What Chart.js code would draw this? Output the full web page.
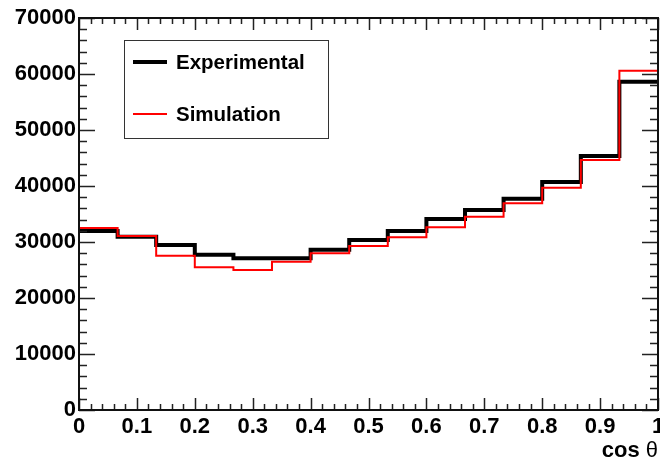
<!DOCTYPE html>
<html>
<head>
<meta charset="utf-8">
<script src="https://cdn.jsdelivr.net/npm/chart.js@4"></script>
<style>
  html, body { margin: 0; padding: 0; background: #fff; }
</style>
</head>
<body>
<canvas id="histChart" width="660" height="464"></canvas>
<script>
// bin low edges (15 bins over cos theta 0..1) plus the upper edge
const binEdges = [0, 0.0667, 0.1333, 0.2, 0.2667, 0.3333, 0.4, 0.4667, 0.5333, 0.6, 0.6667, 0.7333, 0.8, 0.8667, 0.9333, 1];
const experimental = [31960, 30950, 29460, 27740, 27080, 27080, 28630, 30360, 31960, 34110, 35710, 37740, 40710, 45360, 58630];
const simulation = [32500, 31070, 27560, 25480, 25000, 26480, 27980, 29290, 30830, 32620, 34520, 36900, 39700, 44640, 60590];
const seriesLabels = ['Experimental', 'Simulation'];
const xTickLabels = ['0', '0.1', '0.2', '0.3', '0.4', '0.5', '0.6', '0.7', '0.8', '0.9', '1'];
const yTickLabels = ['0', '10000', '20000', '30000', '40000', '50000', '60000', '70000'];
const xTitleParts = ['cos ', 'θ'];

const FONT = '"Liberation Sans", Arial, sans-serif';

function stepPoints(values) {
  const pts = values.map((y, i) => ({ x: binEdges[i], y }));
  pts.push({ x: binEdges[values.length], y: values[values.length - 1] });
  return pts;
}

// ROOT style frame: ticks drawn inward on all four sides + legend box + axis title
const rootFrame = {
  id: 'rootFrame',
  afterDatasetsDraw(chart) {
    const { ctx, chartArea: a, scales } = chart;
    const xs = scales.x, ys = scales.y;
    ctx.save();
    ctx.strokeStyle = '#222';
    ctx.lineWidth = 1.5;
    ctx.beginPath();
    for (let v = 0; v <= 70000; v += 2000) {
      const major = v % 10000 === 0;
      const y = Math.round(ys.getPixelForValue(v)) + 0.5;
      const len = major ? 16 : 8;
      ctx.moveTo(a.left, y); ctx.lineTo(a.left + len, y);
      ctx.moveTo(a.right, y); ctx.lineTo(a.right - len, y);
    }
    for (let k = 0; k <= 50; k++) {
      const major = k % 5 === 0;
      const x = Math.round(xs.getPixelForValue(k * 0.02)) + 0.5;
      const len = major ? 12 : 6;
      ctx.moveTo(x, a.bottom); ctx.lineTo(x, a.bottom - len);
      ctx.moveTo(x, a.top); ctx.lineTo(x, a.top + len);
    }
    ctx.stroke();

    ctx.lineWidth = 2;
    ctx.strokeStyle = '#111';
    ctx.strokeRect(a.left, a.top, a.right - a.left, a.bottom - a.top);

    // legend
    const bx = 124.5, by = 40.5, bw = 204, bh = 98;
    ctx.fillStyle = '#fff';
    ctx.fillRect(bx, by, bw, bh);
    ctx.lineWidth = 1;
    ctx.strokeStyle = '#333';
    ctx.strokeRect(bx, by, bw, bh);
    const rows = [62, 114];
    chart.data.datasets.forEach((ds, i) => {
      const y = rows[i];
      ctx.strokeStyle = ds.borderColor;
      ctx.lineWidth = ds.borderWidth;
      ctx.beginPath();
      ctx.moveTo(133, y); ctx.lineTo(167, y);
      ctx.stroke();
      ctx.fillStyle = '#000';
      ctx.font = 'bold 20.5px ' + FONT;
      ctx.textBaseline = 'middle';
      ctx.textAlign = 'left';
      ctx.fillText(ds.label, 176, y + 1);
    });

    // x axis title: bold "cos", plain theta, right aligned to the frame
    const boldFont = 'bold 22px ' + FONT;
    const plainFont = '22px ' + FONT;
    ctx.font = boldFont;
    const w1 = ctx.measureText(xTitleParts[0]).width;
    ctx.font = plainFont;
    const w2 = ctx.measureText(xTitleParts[1]).width;
    let tx = a.right - w1 - w2;
    ctx.textBaseline = 'alphabetic';
    ctx.fillStyle = '#000';
    ctx.font = boldFont;
    ctx.fillText(xTitleParts[0], tx, 457);
    ctx.font = plainFont;
    ctx.fillText(xTitleParts[1], tx + w1, 457);
    ctx.restore();
  }
};

const chart = new Chart(document.getElementById('histChart').getContext('2d'), {
  type: 'line',
  data: {
    datasets: [
      {
        label: seriesLabels[0],
        data: stepPoints(experimental),
        borderColor: '#000000',
        borderWidth: 4,
        stepped: 'before',
        pointRadius: 0,
        fill: false,
        order: 2
      },
      {
        label: seriesLabels[1],
        data: stepPoints(simulation),
        borderColor: '#ff0000',
        borderWidth: 2,
        stepped: 'before',
        pointRadius: 0,
        fill: false,
        order: 1
      }
    ]
  },
  options: {
    responsive: false,
    devicePixelRatio: 1,
    animation: false,
    layout: { padding: { top: 18, right: 2, left: 0, bottom: 0 } },
    plugins: {
      legend: { display: false },
      tooltip: { enabled: false }
    },
    scales: {
      x: {
        type: 'linear',
        min: 0,
        max: 1,
        grid: { display: false, drawTicks: false },
        border: { display: false },
        ticks: {
          stepSize: 0.1,
          padding: 4,
          maxRotation: 0,
          autoSkip: false,
          color: '#000',
          font: { family: FONT, size: 22, weight: 'bold' },
          callback: (v, i) => xTickLabels[i]
        },
        afterFit(scale) {
          scale.height = 54;
          scale.paddingLeft = 0;
          scale.paddingRight = 0;
        }
      },
      y: {
        min: 0,
        max: 70000,
        grid: { display: false, drawTicks: false },
        border: { display: false },
        ticks: {
          stepSize: 10000,
          padding: 3,
          color: '#000',
          font: { family: FONT, size: 22, weight: 'bold' },
          callback: (v, i) => yTickLabels[i]
        },
        afterFit(scale) {
          scale.width = 79;
          scale.paddingTop = 0;
          scale.paddingBottom = 0;
        }
      }
    }
  },
  plugins: [rootFrame]
});
</script>
</body>
</html>
